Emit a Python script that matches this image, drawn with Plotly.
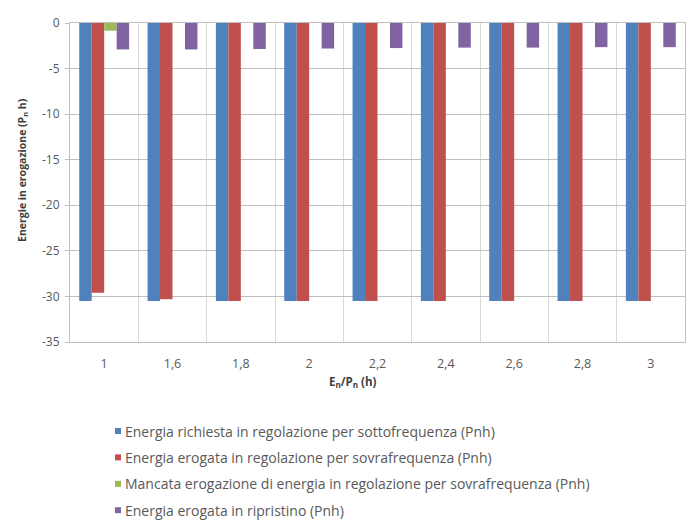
import plotly.graph_objects as go

# Categories: storage energy / rated power ratio
categorie = ["1", "1,6", "1,8", "2", "2,2", "2,4", "2,6", "2,8", "3"]

# Energy values per series (Pn h)
richiesta_sotto = [-30.5, -30.5, -30.5, -30.5, -30.5, -30.5, -30.5, -30.5, -30.5]
erogata_sovra = [-29.6, -30.3, -30.5, -30.5, -30.5, -30.5, -30.5, -30.5, -30.5]
mancata_sovra = [-0.85, 0, 0, 0, 0, 0, 0, 0, 0]
erogata_ripristino = [-2.9, -2.9, -2.85, -2.8, -2.75, -2.7, -2.7, -2.65, -2.65]

# Y axis ticks (plain hyphen for negatives)
y_tick_vals = [0, -5, -10, -15, -20, -25, -30, -35]
y_tick_text = ["0", "-5", "-10", "-15", "-20", "-25", "-30", "-35"]

nomi = [
    "Energia richiesta in regolazione per sottofrequenza (Pnh)",
    "Energia erogata in regolazione per sovrafrequenza (Pnh)",
    "Mancata erogazione di energia in regolazione per sovrafrequenza (Pnh)",
    "Energia erogata in ripristino (Pnh)",
]
serie = [richiesta_sotto, erogata_sovra, mancata_sovra, erogata_ripristino]
colori = ["#4F81BD", "#C0504D", "#9BBB59", "#8064A2"]

FONT = "'Open Sans', Lato, sans-serif"
W, H = 688, 521
ML, MR, MT, MB = 70, 3, 23, 179
PW, PH = W - ML - MR, H - MT - MB


def px(x):
    return (x - ML) / PW


def py(y):
    return (H - MB - y) / PH


fig = go.Figure()
for nome, valori, colore in zip(nomi, serie, colori):
    fig.add_trace(go.Bar(
        x=categorie, y=valori, name=nome,
        marker=dict(color=colore, line=dict(width=0)),
    ))

# Legend drawn below the plot: small colour square + series name
annotations = []
shapes = []
for i, (nome, colore) in enumerate(zip(nomi, colori)):
    yc = 431 + i * 26.4
    shapes.append(dict(
        type="rect", xref="paper", yref="paper",
        x0=px(115), x1=px(121), y0=py(yc + 3), y1=py(yc - 3),
        fillcolor=colore, line=dict(width=0),
    ))
    annotations.append(dict(
        xref="paper", yref="paper", x=px(123), y=py(yc),
        xanchor="left", yanchor="middle", showarrow=False,
        text=nome, font=dict(family=FONT, size=14, color="#595959"),
    ))

# Axis titles
annotations.append(dict(
    xref="paper", yref="paper", x=px(352), y=py(382),
    xanchor="center", yanchor="middle", showarrow=False,
    text="<b>E<sub>n</sub>/P<sub>n</sub> (h)</b>",
    font=dict(family=FONT, size=11.5, color="#404040"),
))
annotations.append(dict(
    xref="paper", yref="paper", x=px(22), y=py(170),
    xanchor="center", yanchor="middle", showarrow=False, textangle=-90,
    text="<b>Energie in erogazione (P<sub>n</sub> h)</b>",
    font=dict(family=FONT, size=10.5, color="#404040"),
))

fig.update_layout(
    width=W, height=H,
    margin=dict(l=ML, r=MR, t=MT, b=MB),
    paper_bgcolor="white", plot_bgcolor="white",
    barmode="group", bargap=0.27, bargroupgap=0,
    font=dict(family=FONT, size=12, color="#595959"),
    showlegend=False,
    annotations=annotations,
    shapes=shapes,
)

fig.update_xaxes(
    type="category", tickson="boundaries",
    showgrid=True, gridcolor="#D9D9D9", gridwidth=1,
    showline=True, linecolor="#BFBFBF", mirror=True,
    ticks="", ticklen=0, ticklabelstandoff=10,
    tickfont=dict(family=FONT, size=12.5, color="#595959"),
)
fig.update_yaxes(
    range=[-35, 0], tickmode="array",
    tickvals=y_tick_vals, ticktext=y_tick_text,
    showgrid=True, gridcolor="#BFBFBF", gridwidth=1,
    showline=True, linecolor="#BFBFBF", mirror=True,
    zeroline=False,
    ticks="outside", ticklen=4, tickcolor="#BFBFBF",
    ticklabelstandoff=3,
    tickfont=dict(family=FONT, size=12, color="#595959"),
)

fig.write_html("out.html")
